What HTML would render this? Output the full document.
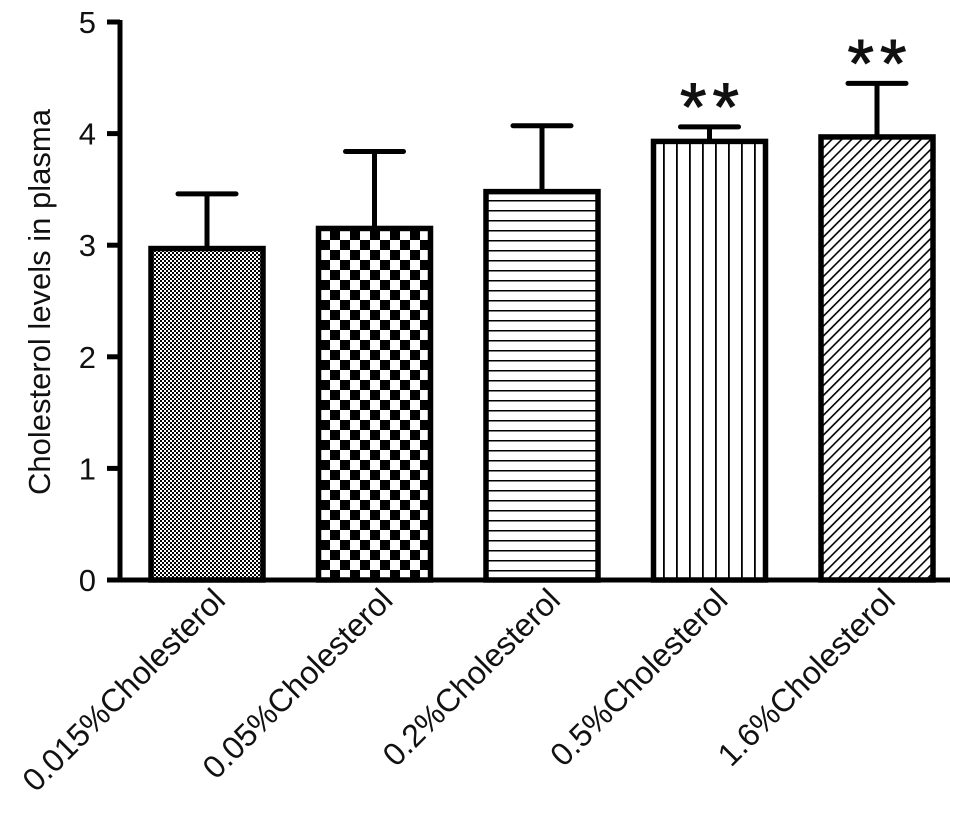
<!DOCTYPE html>
<html><head><meta charset="utf-8"><style>
body{margin:0;background:#fff}
svg text{font-family:"Liberation Sans",Arial,sans-serif;fill:#111}
</style></head><body>
<svg width="969" height="835" viewBox="0 0 969 835">
<defs>
<pattern id="p0" width="4" height="4" patternUnits="userSpaceOnUse"><rect width="4" height="4" fill="#fff"/><rect width="2" height="2" fill="#000"/><rect x="2" y="2" width="2" height="2" fill="#000"/></pattern>
<pattern id="p1" width="20" height="20" patternUnits="userSpaceOnUse"><rect width="20" height="20" fill="#fff"/><rect width="10" height="10" fill="#000"/><rect x="10" y="10" width="10" height="10" fill="#000"/></pattern>
<pattern id="p2" width="10" height="10" patternUnits="userSpaceOnUse"><rect width="10" height="10" fill="#fff"/><rect y="0" width="10" height="1.5" fill="#000"/></pattern>
<pattern id="p3" width="13" height="13" patternUnits="userSpaceOnUse"><rect width="13" height="13" fill="#fff"/><rect x="0" width="1.8" height="13" fill="#000"/></pattern>
<pattern id="p4" width="7" height="7" patternUnits="userSpaceOnUse" patternTransform="rotate(45)"><rect width="7" height="7" fill="#fff"/><rect width="1.6" height="7" fill="#000"/></pattern>
</defs>
<g id="chart"></g>
</svg>
<script>
const categories=["0.015%Cholesterol","0.05%Cholesterol","0.2%Cholesterol","0.5%Cholesterol","1.6%Cholesterol"];
const values=[2.97,3.15,3.48,3.93,3.97];
const errors=[0.49,0.69,0.59,0.13,0.48];
const marks=["","","","**","**"];
const yTicks=[0,1,2,3,4,5];
const NS="http://www.w3.org/2000/svg";
const g=document.getElementById('chart');
const y0=580,y5=22,x0=120;
function yScale(v){return y0-(y0-y5)*v/5;}
function xCenter(i){return 207+i*167.5;}
const bw=112;
function mk(t,a,p){const e=document.createElementNS(NS,t);for(const k in a)e.setAttribute(k,a[k]);(p||g).appendChild(e);return e;}
let ax=mk('line',{x1:x0,y1:y5-2,x2:x0,y2:y0+2,stroke:'#000','stroke-width':5});


let xa=mk('line',{x1:x0-2,y1:y0,x2:950,y2:y0,stroke:'#000','stroke-width':5});


yTicks.forEach(t=>{
  const y=yScale(t);
  const tk=mk('line',{x1:x0-13,y1:y,x2:x0,y2:y,stroke:'#000','stroke-width':5});
  
  
  const tl=mk('text',{x:x0-24,y:y+11,'text-anchor':'end','font-size':31});
  tl.textContent=t;
  
  
});
const yt=mk('text',{x:0,y:0,'text-anchor':'middle','font-size':31,transform:'translate(50,302) rotate(-90)'});
yt.textContent='Cholesterol levels in plasma';


categories.forEach((c,i)=>{
  const cx=xCenter(i),top=yScale(values[i]),et=yScale(values[i]+errors[i]);
  const el=mk('line',{x1:cx,y1:top,x2:cx,y2:et,stroke:'#000','stroke-width':5});
  
  
  const cap=mk('line',{x1:cx-29,y1:et,x2:cx+29,y2:et,stroke:'#000','stroke-width':5,'stroke-linecap':'round'});
  
  
  const r=mk('rect',{x:cx-bw/2,y:top,width:bw,height:y0-top,fill:'url(#p'+i+')',stroke:'#000','stroke-width':5.5});
  
  
  if(marks[i]){
    const s=mk('text',{x:cx+3,y:et+3,'text-anchor':'middle','font-size':68,'letter-spacing':'6',stroke:'#111','stroke-width':1});
    s.textContent=marks[i];
    
    
  }
  const xl=mk('text',{x:0,y:0,'text-anchor':'end','font-size':32,transform:'translate('+(cx+20)+',602) rotate(-45)'});
  xl.textContent=c;
  
  
});
</script>
</body></html>
